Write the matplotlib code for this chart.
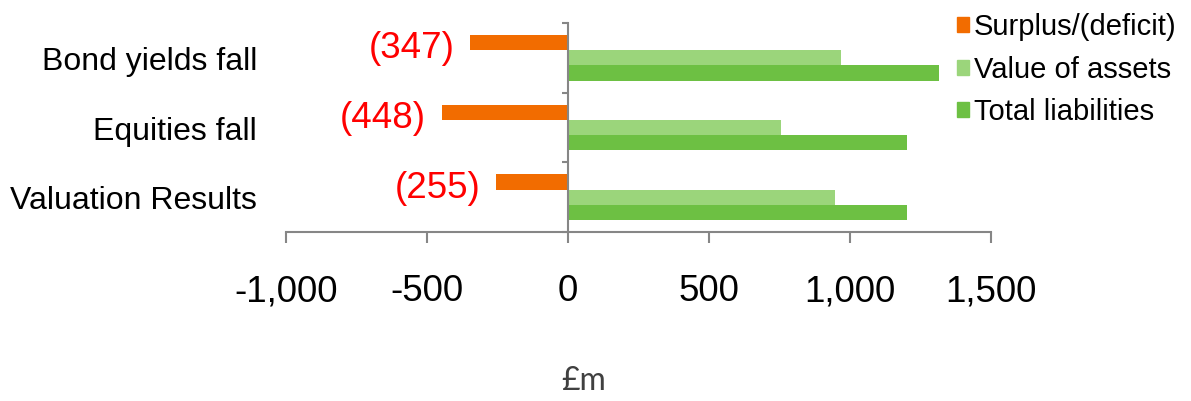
import matplotlib
matplotlib.use("Agg")
import matplotlib.pyplot as plt
import matplotlib.transforms as mtransforms
from matplotlib.patches import Patch

plt.rcParams['font.family'] = ['Liberation Sans', 'DejaVu Sans']

#Chart data (in £m)
categories = ['Valuation Results', 'Equities fall', 'Bond yields fall']
surplus = [-255, -448, -347]
assets = [948, 755, 969]
liabilities = [1203, 1203, 1316]
surplus_labels = ['(255)', '(448)', '(347)']
series_names = ['Surplus/(deficit)', 'Value of assets', 'Total liabilities']
xticks = [-1000, -500, 0, 500, 1000, 1500]
xtick_labels = ['-1,000', '-500', '0', '500', '1,000', '1,500']

orange = '#F26C00'
light_green = '#9BD57B'
dark_green = '#6DC043'
axis_grey = '#868686'

W, H = 1191, 401
fig = plt.figure(figsize=(W / 100, H / 100), dpi=100)
#plot area in pixels: x from 286 to 991, y from 23 to 232
ax = fig.add_axes([286 / W, 1 - 232 / H, (991 - 286) / W, (232 - 23) / H])

bar_h = 0.22
ypos = list(range(len(categories)))
ax.barh([y + bar_h for y in ypos], surplus, height=bar_h, color=orange)
ax.barh(ypos, assets, height=bar_h, color=light_green)
ax.barh([y - bar_h for y in ypos], liabilities, height=bar_h, color=dark_green)

ax.set_xlim(xticks[0], xticks[-1])
ax.set_ylim(-0.5, len(categories) - 0.5)

#axes lines: y axis sits at zero
for s in ['top', 'right']:
    ax.spines[s].set_visible(False)
ax.spines['left'].set_position(('data', 0))
for s in ['left', 'bottom']:
    ax.spines[s].set_color(axis_grey)
    ax.spines[s].set_linewidth(1.5)

ax.set_xticks(xticks)
ax.set_xticklabels(xtick_labels, fontsize=26.5)
ax.tick_params(axis='x', length=8, width=1.5, color=axis_grey, pad=22.5)
ax.set_yticks([y - 0.5 for y in ypos] + [len(categories) - 0.5])
ax.set_yticklabels([])
ax.tick_params(axis='y', length=4.5, width=1.5, color=axis_grey)

#category names on the left of the plot area
trans = mtransforms.blended_transform_factory(ax.transAxes, ax.transData)
for y, name in zip(ypos, categories):
    ax.annotate(name, xy=(-29 / 705, y), xycoords=trans, xytext=(0, -3), textcoords='offset points',
                ha='right', va='center', fontsize=23)

#red deficit labels
for y, v, lab in zip(ypos, surplus, surplus_labels):
    ax.annotate(lab, xy=(v, y + bar_h), xytext=(-11.5, -4.5), textcoords='offset points',
                ha='right', va='center', fontsize=26.5, color='#FF0000')

handles = [Patch(color=orange), Patch(color=light_green), Patch(color=dark_green)]
fig.legend(handles, series_names, loc='upper left', bbox_to_anchor=(957 / W, 1 - 13 / H),
           frameon=False, fontsize=21, handlelength=0.42, handleheight=0.42,
           handletextpad=0.15, labelspacing=0.5, borderpad=0, borderaxespad=0)

fig.text(584 / W, 1 - 381 / H, '£m', ha='center', va='center', fontsize=23,
         color='#404040', family=['Lato', 'DejaVu Sans'])

fig.savefig('out.png', dpi=100)
